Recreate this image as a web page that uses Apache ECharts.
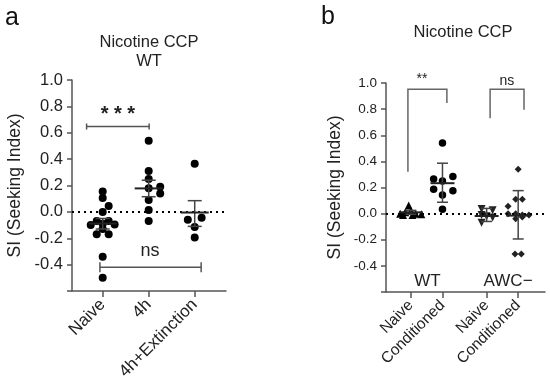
<!DOCTYPE html>
<html><head><meta charset="utf-8">
<script src="https://cdn.jsdelivr.net/npm/echarts@6/dist/echarts.min.js"></script>
<style>html,body{margin:0;padding:0;background:#fff}#c{width:550px;height:387px}</style>
</head><body><div id="c"></div>
<script>
// ---------- Panel a data ----------
const aCategories = ['Naive', '4h', '4h+Extinction'];
const aPositions = [0, 1, 2];
const aNaiveValues = [0.155, 0.105, 0.045, 0.0, -0.07, -0.07, -0.10, -0.095, -0.09, -0.17, -0.17, -0.13, -0.34, -0.50];
const aNaiveJitter = [0, 0, 0.13, 0, -0.13, 0.13, -0.26, 0.26, 0, -0.13, 0.13, 0, 0, 0];
const a4hValues = [0.54, 0.31, 0.25, 0.18, 0.19, 0.14, 0.09, 0.015, -0.07];
const a4hJitter = [0, 0, 0, 0, 0.25, 0.25, 0, 0, 0];
const aExtValues = [0.365, -0.06, -0.045, -0.115, -0.195];
const aExtJitter = [0, -0.15, 0.15, 0, 0];
const aMeans = [-0.088, 0.178, -0.005];
const aErrLow = [-0.13, 0.115, -0.11];
const aErrHigh = [-0.05, 0.24, 0.085];
// bracket: [x1, x2, y]
const aBrackets = [[-0.35, 1.01, 0.647], [-0.06, 2.14, -0.42]];
const aBracketLabels = [['* * *', 0.33, 0.74], ['ns', 1.03, -0.296]];
const aYTicks = [-0.4, -0.2, 0.0, 0.2, 0.4, 0.6, 0.8, 1.0];

// ---------- Panel b data ----------
const bCategories = ['Naive', 'Conditioned', 'Naive', 'Conditioned'];
const bPositions = [0, 1, 2.4, 3.4];
const bWtNaiveValues = [0.062, 0.0, 0.01, 0.02, 0.0, -0.005, -0.01, -0.01];
const bWtNaiveJitter = [-0.07, -0.34, -0.18, 0.0, 0.15, 0.33, 0.05, -0.25];
const bWtCondValues = [0.54, 0.266, 0.284, 0.25, 0.187, 0.176, 0.143, 0.034];
const bWtCondJitter = [0, -0.28, 0.33, 0, -0.28, 0.33, 0, 0];
const bAwcNaiveValues = [0.035, 0.025, -0.01, -0.03, -0.02, -0.07];
const bAwcNaiveJitter = [-0.16, 0.19, -0.16, 0.19, 0.0, -0.16];
const bAwcCondValues = [0.34, 0.11, 0.11, 0.057, 0.0, 0.0, -0.01, -0.01, -0.04, -0.025, -0.31, -0.31];
const bAwcCondJitter = [0, -0.08, 0.13, -0.32, -0.32, -0.08, 0.13, 0.34, -0.08, 0.13, -0.1, 0.1];
const bMeans = [0.01, 0.233, -0.018, -0.015];
const bErrLow = [-0.005, 0.087, -0.06, -0.194];
const bErrHigh = [0.025, 0.386, 0.04, 0.176];
// bracket: [xLeft, yLeftBottom, xRight, yRightBottom, yTop]
const bBrackets = [[-0.095, 0.32, 1.14, 0.846, 0.953], [2.51, 0.73, 3.585, 0.795, 0.953]];
const bBracketLabels = [['**', 0.35, 1.03], ['ns', 3.04, 1.017]];
const bGroupLabels = [['WT', 0.525, -0.515], ['AWC\u2212', 3.08, -0.515]];
const bYTicks = [-0.4, -0.2, 0.0, 0.2, 0.4, 0.6, 0.8, 1.0];

const FONT = 'Liberation Sans, Arial, sans-serif';
const AX = '#555';

function pts(pos, vals, jit) { return vals.map((v, i) => [pos + jit[i], v]); }
function errData(pos, m, lo, hi) { return pos.map((p, i) => [p, m[i], lo[i], hi[i]]); }

function errSeries(xi, data, meanHalf, capHalf) {
  return {
    type: 'custom', xAxisIndex: xi, yAxisIndex: xi, z: 5, data: data,
    renderItem: function (params, api) {
      const x = api.value(0);
      const pm = api.coord([x, api.value(1)]);
      const pl = api.coord([x, api.value(2)]);
      const ph = api.coord([x, api.value(3)]);
      const ls = { stroke: '#444', lineWidth: 1.5 };
      return { type: 'group', children: [
        { type: 'line', shape: { x1: pl[0], y1: pl[1], x2: ph[0], y2: ph[1] }, style: ls },
        { type: 'line', shape: { x1: pl[0] - capHalf, y1: pl[1], x2: pl[0] + capHalf, y2: pl[1] }, style: ls },
        { type: 'line', shape: { x1: ph[0] - capHalf, y1: ph[1], x2: ph[0] + capHalf, y2: ph[1] }, style: ls },
        { type: 'line', shape: { x1: pm[0] - meanHalf, y1: pm[1], x2: pm[0] + meanHalf, y2: pm[1] }, style: { stroke: '#222', lineWidth: 2 } }
      ]};
    }
  };
}
function textSeries(xi, data, size, weight) {
  return {
    type: 'custom', xAxisIndex: xi, yAxisIndex: xi, z: 6, data: data.map(d => [d[1], d[2]]),
    renderItem: function (params, api) {
      const p = api.coord([api.value(0), api.value(1)]);
      return { type: 'text', x: p[0], y: p[1], style: { text: data[params.dataIndex][0], fill: '#222', font: (weight || 'normal') + ' ' + size + 'px ' + FONT, align: 'center', verticalAlign: 'middle' } };
    }
  };
}

const zeroLine = { silent: true, symbol: 'none', label: { show: false }, data: [{ yAxis: 0 }],
  lineStyle: { type: [2, 4], color: '#000', width: 2 } };

function yAxisOpt(gi, ticks, fs, gap) {
  return {
    type: 'value', gridIndex: gi, min: -0.6, max: 1.0, interval: 0.2,
    name: 'SI (Seeking Index)', nameLocation: 'middle', nameGap: gap, nameRotate: 90,
    nameTextStyle: { fontFamily: FONT, fontSize: 17.5, color: '#222' },
    axisLine: { show: true, onZero: false, lineStyle: { color: AX, width: 1.5 } },
    axisTick: { show: true, length: 5, lineStyle: { color: AX, width: 1.5 }, customValues: ticks.concat([-0.6]) },
    axisLabel: { fontFamily: FONT, fontSize: fs, color: '#222', margin: 9, customValues: ticks,
      formatter: v => v.toFixed(1) },
    splitLine: { show: false }
  };
}
function xAxisOpt(gi, min, max, pos, cats, fs) {
  return {
    type: 'value', gridIndex: gi, min: min, max: max,
    axisLine: { show: true, onZero: false, lineStyle: { color: AX, width: 1.5 } },
    axisTick: { show: true, length: 6, customValues: pos, lineStyle: { color: AX, width: 1.5 } },
    axisLabel: { customValues: pos, rotate: 45, margin: 11, fontFamily: FONT, fontSize: fs, color: '#222',
      formatter: v => { const i = pos.findIndex(p => Math.abs(p - v) < 1e-6); return i >= 0 ? cats[i] : ''; } },
    splitLine: { show: false }
  };
}

const dot = { color: '#000', opacity: 1 };

const option = {
  animation: false,
  backgroundColor: '#fff',
  grid: [
    { left: 72, top: 80, width: 154, height: 211 },
    { left: 386, top: 83, width: 159, height: 209 }
  ],
  xAxis: [
    xAxisOpt(0, -0.667, 2.68, aPositions, aCategories, 17),
    xAxisOpt(1, -0.79, 4.25, bPositions, bCategories, 15.5)
  ],
  yAxis: [ yAxisOpt(0, aYTicks, 16.5, 48), yAxisOpt(1, bYTicks, 13.5, 42) ],
  graphic: [
    { type: 'text', left: 5, top: 6, style: { text: 'a', font: '25px ' + FONT, fill: '#111' } },
    { type: 'text', left: 321, top: 5, style: { text: 'b', font: '25px ' + FONT, fill: '#111' } },
    { type: 'text', x: 149, y: 33, style: { text: 'Nicotine CCP\nWT', font: '16.5px ' + FONT, fill: '#222', align: 'center', lineHeight: 19 } },
    { type: 'text', x: 463, y: 24, style: { text: 'Nicotine CCP', font: '16.5px ' + FONT, fill: '#222', align: 'center' } }
  ],
  series: [
    { type: 'scatter', xAxisIndex: 0, yAxisIndex: 0, symbol: 'circle', symbolSize: 8, itemStyle: dot,
      data: pts(0, aNaiveValues, aNaiveJitter), markLine: zeroLine },
    { type: 'scatter', xAxisIndex: 0, yAxisIndex: 0, symbol: 'circle', symbolSize: 8, itemStyle: dot,
      data: pts(1, a4hValues, a4hJitter) },
    { type: 'scatter', xAxisIndex: 0, yAxisIndex: 0, symbol: 'circle', symbolSize: 8, itemStyle: dot,
      data: pts(2, aExtValues, aExtJitter) },
    errSeries(0, errData(aPositions, aMeans, aErrLow, aErrHigh), 14, 7),
    {
      type: 'custom', xAxisIndex: 0, yAxisIndex: 0, z: 6, data: aBrackets,
      renderItem: function (params, api) {
        const p1 = api.coord([api.value(0), api.value(2)]);
        const p2 = api.coord([api.value(1), api.value(2)]);
        const ls = { stroke: '#555', lineWidth: 1.5 };
        const c = params.dataIndex === 0 ? 3 : 5;
        return { type: 'group', children: [
          { type: 'line', shape: { x1: p1[0], y1: p1[1], x2: p2[0], y2: p2[1] }, style: ls },
          { type: 'line', shape: { x1: p1[0], y1: p1[1] - c, x2: p1[0], y2: p1[1] + c }, style: ls },
          { type: 'line', shape: { x1: p2[0], y1: p2[1] - c, x2: p2[0], y2: p2[1] + c }, style: ls }
        ]};
      }
    },
    textSeries(0, [aBracketLabels[0]], 20, 'bold'),
    textSeries(0, [aBracketLabels[1]], 18),

    { type: 'scatter', xAxisIndex: 1, yAxisIndex: 1, symbol: 'triangle', symbolSize: 8, itemStyle: dot,
      data: pts(bPositions[0], bWtNaiveValues, bWtNaiveJitter), markLine: zeroLine },
    { type: 'scatter', xAxisIndex: 1, yAxisIndex: 1, symbol: 'circle', symbolSize: 7.5, itemStyle: dot,
      data: pts(bPositions[1], bWtCondValues, bWtCondJitter) },
    { type: 'scatter', xAxisIndex: 1, yAxisIndex: 1, symbol: 'triangle', symbolRotate: 180, symbolSize: 8, itemStyle: { color: '#222', opacity: 1 },
      data: pts(bPositions[2], bAwcNaiveValues, bAwcNaiveJitter) },
    { type: 'scatter', xAxisIndex: 1, yAxisIndex: 1, symbol: 'diamond', symbolSize: [7, 7], itemStyle: { color: '#222', opacity: 1 },
      data: pts(bPositions[3], bAwcCondValues, bAwcCondJitter) },
    errSeries(1, errData(bPositions, bMeans, bErrLow, bErrHigh), 12, 5.5),
    {
      type: 'custom', xAxisIndex: 1, yAxisIndex: 1, z: 6, data: bBrackets,
      renderItem: function (params, api) {
        const a = api.coord([api.value(0), api.value(1)]);
        const b = api.coord([api.value(0), api.value(4)]);
        const c = api.coord([api.value(2), api.value(4)]);
        const d = api.coord([api.value(2), api.value(3)]);
        return { type: 'polyline', shape: { points: [a, b, c, d] }, style: { stroke: '#666', lineWidth: 1.5, fill: null } };
      }
    },
    textSeries(1, bBracketLabels, 14),
    textSeries(1, bGroupLabels, 17)
  ]
};
echarts.init(document.getElementById('c')).setOption(option);
</script></body></html>
